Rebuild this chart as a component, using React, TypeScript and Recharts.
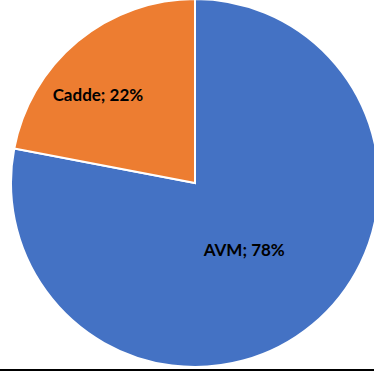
import React from 'react';
import { PieChart, Pie, Cell } from 'recharts';

const categories = ['AVM', 'Cadde'];
const values = [78, 22];
const colors = ['#4472C4', '#ED7D31'];

const data = categories.map((name, i) => ({ name, value: values[i] }));

const RAD = Math.PI / 180;
const labelRadiusFrac = [0.45, 0.712];
const labelAngleNudge = [-3.1, 8.2];

const renderLabel = (props: any) => {
  const { cx, cy, midAngle, outerRadius, index, name, value } = props;
  const r = outerRadius * labelRadiusFrac[index];
  const a = (midAngle + labelAngleNudge[index]) * RAD;
  const x = cx + r * Math.cos(a);
  const y = cy - r * Math.sin(a);
  return (
    <text
      x={x}
      y={y}
      textAnchor="middle"
      dominantBaseline="central"
      fill="#000"
      fontFamily="Lato, 'Liberation Sans', sans-serif"
      fontWeight="bold"
      fontSize={17}
    >
      {`${name}; ${value}%`}
    </text>
  );
};

export default function App() {
  return (
    <div style={{ position: 'absolute', left: 0, top: 0, width: 374, height: 371, background: '#fff', overflow: 'hidden' }}>
      <PieChart width={374} height={371} margin={{ top: 0, right: 0, bottom: 0, left: 0 }}>
        <Pie
          data={data}
          dataKey="value"
          nameKey="name"
          cx={195}
          cy={183}
          outerRadius={184}
          startAngle={90}
          endAngle={-270}
          stroke="#fff"
          strokeWidth={2}
          label={renderLabel}
          labelLine={false}
          isAnimationActive={false}
        >
          {data.map((d, i) => (
            <Cell key={d.name} fill={colors[i]} />
          ))}
        </Pie>
      </PieChart>
      <div style={{ position: 'absolute', left: 0, top: 369, width: 374, height: 2, background: '#000' }} />
    </div>
  );
}
